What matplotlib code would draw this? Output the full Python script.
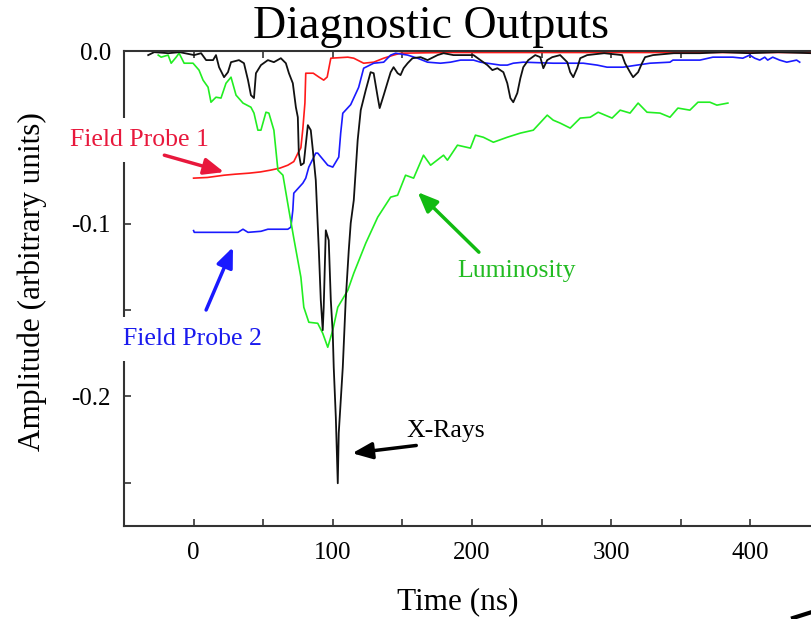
import matplotlib
matplotlib.use("Agg")
import matplotlib.pyplot as plt
from matplotlib.lines import Line2D

plt.rcParams['font.family'] = ['Liberation Serif', 'DejaVu Serif']

# X-Rays (black)
xray_t = [-32.6, -28.3, -18.0, -10.0, 0.4, 5.4, 9.0, 14.0, 16.1, 18.3, 21.9, 24.7, 26.9,
          32.6, 36.2, 39.1, 41.2, 43.4, 44.8, 48.4, 53.4, 57.7, 62.7, 66.3, 68.5, 71.3,
          73.5, 74.9, 75.6, 77.1, 79.2, 82.1, 84.2, 85.7, 87.8, 90.0, 91.4, 92.8, 93.5,
          95.0, 97.1, 98.6, 100.0, 100.7, 102.2, 103.6, 104.3, 107.2, 109.3, 111.5, 112.9,
          115.1, 117.9, 120.1, 123.7, 127.2, 129.4, 132.3, 133.7, 136.6, 139.4, 141.6,
          143.7, 146.6, 148.7, 150.9, 153.8, 157.3, 163.1, 168.1, 175.3, 179.6, 186.7,
          191.8, 201.1, 206.1, 211.1, 214.7, 218.3, 222.6, 225.4, 227.6, 229.7, 232.6,
          234.8, 236.9, 240.5, 245.5, 249.1, 251.3, 254.1, 257.7, 263.4, 268.5, 270.6,
          272.8, 275.6, 277.8, 282.8, 295.0, 307.9, 310.0, 313.6, 315.8, 319.4, 322.2,
          324.4, 330.1, 345.0, 363.8, 380.0, 399.6, 420.0, 444.0]
xray_v = [-0.0023, -0.0006, -0.0012, -0.0006, -0.0023, -0.0012, -0.0052, -0.0052, -0.0023,
          -0.0093, -0.0151, -0.0122, -0.0064, -0.0052, -0.0070, -0.0168, -0.0255, -0.0272,
          -0.0128, -0.0081, -0.0052, -0.0064, -0.0041, -0.0070, -0.0128, -0.0186, -0.0325,
          -0.0383, -0.0591, -0.0661, -0.0649, -0.0429, -0.0458, -0.0574, -0.0748, -0.1154,
          -0.1443, -0.1617, -0.1484, -0.1038, -0.1096, -0.1443, -0.1635, -0.1832, -0.2122,
          -0.2504, -0.2214, -0.1832, -0.1443, -0.1154, -0.0997, -0.0864, -0.0516, -0.0342,
          -0.0226, -0.0122, -0.0128, -0.0267, -0.0330, -0.0255, -0.0180, -0.0122, -0.0093,
          -0.0128, -0.0139, -0.0099, -0.0070, -0.0041, -0.0035, -0.0052, -0.0023, -0.0012,
          -0.0023, -0.0023, -0.0023, -0.0052, -0.0081, -0.0110, -0.0099, -0.0122, -0.0186,
          -0.0272, -0.0296, -0.0243, -0.0157, -0.0093, -0.0052, -0.0023, -0.0035, -0.0099,
          -0.0052, -0.0035, -0.0023, -0.0064, -0.0122, -0.0151, -0.0099, -0.0041, -0.0023,
          -0.0012, -0.0023, -0.0070, -0.0122, -0.0151, -0.0122, -0.0070, -0.0035, -0.0023,
          -0.0012, -0.0012, -0.0006, -0.0012, -0.0006, -0.0012]

# Luminosity (green)
lum_t = [-25.4, -23.3, -18.3, -16.1, -12.5, -10.4, -6.8, -0.4, 3.9, 6.8, 10.4, 12.5, 16.1,
         19.7, 23.3, 26.9, 30.5, 35.5, 41.2, 43.4, 46.2, 48.4, 52.0, 54.1, 57.7, 60.6, 64.2,
         68.5, 72.0, 77.1, 79.2, 82.8, 89.2, 92.8, 96.4, 100.0, 103.6, 110.8, 115.1, 123.7,
         132.3, 141.6, 146.6, 152.3, 158.1, 165.2, 170.3, 179.6, 182.4, 189.6, 198.9, 202.5,
         208.2, 215.4, 225.4, 234.8, 244.1, 254.1, 258.4, 263.4, 270.6, 277.8, 285.0, 290.7,
         300.7, 306.5, 313.6, 319.4, 325.8, 335.1, 342.3, 348.0, 356.6, 362.4, 371.0, 376.0,
         383.9]
lum_v = [-0.0023, -0.0035, -0.0023, -0.0070, -0.0035, -0.0012, -0.0070, -0.0070, -0.0110,
         -0.0168, -0.0209, -0.0296, -0.0267, -0.0272, -0.0186, -0.0151, -0.0255, -0.0301,
         -0.0325, -0.0359, -0.0458, -0.0458, -0.0354, -0.0359, -0.0458, -0.0690, -0.0719,
         -0.0922, -0.1084, -0.1310, -0.1484, -0.1571, -0.1577, -0.1635, -0.1716, -0.1617,
         -0.1484, -0.1386, -0.1287, -0.1113, -0.0962, -0.0846, -0.0835, -0.0719, -0.0736,
         -0.0603, -0.0661, -0.0603, -0.0632, -0.0545, -0.0562, -0.0487, -0.0499, -0.0528,
         -0.0499, -0.0475, -0.0458, -0.0371, -0.0400, -0.0417, -0.0446, -0.0388, -0.0383,
         -0.0354, -0.0388, -0.0342, -0.0359, -0.0301, -0.0354, -0.0359, -0.0383, -0.0330,
         -0.0342, -0.0296, -0.0296, -0.0313, -0.0301]

# Field Probe 1 (red)
fp1_t = [0.0, 10.0, 21.9, 30.0, 40.0, 48.0, 55.0, 62.0, 67.7, 72.0, 75.0, 77.1, 78.5, 80.0,
         80.6, 86.0, 90.0, 93.5, 96.0, 98.6, 110.8, 115.1, 122.2, 129.4, 136.6, 143.7,
         148.7, 180.0, 250.0, 320.0, 400.0, 444.0]
fp1_v = [-0.0736, -0.0732, -0.0719, -0.0713, -0.0707, -0.0700, -0.0690, -0.0678, -0.0661,
         -0.0640, -0.0591, -0.0560, -0.0450, -0.0300, -0.0128, -0.0128, -0.0150, -0.0168,
         -0.0150, -0.0041, -0.0035, -0.0041, -0.0070, -0.0064, -0.0041, -0.0023, -0.0012,
         -0.0008, -0.0008, -0.0008, -0.0008, -0.0008]

# Field Probe 2 (blue)
fp2_t = [0.0, 0.5, 31.9, 35.5, 39.1, 48.4, 53.4, 67.7, 69.9, 71.3, 72.0, 78.5, 80.6, 82.8,
         87.8, 89.2, 96.4, 100.0, 104.3, 105.7, 107.2, 112.9, 118.6, 122.2, 129.4, 136.6,
         141.6, 145.2, 153.8, 160.9, 168.1, 177.4, 184.6, 191.8, 201.1, 206.1, 211.1,
         220.4, 225.4, 229.7, 236.9, 258.4, 280.0, 290.0, 297.1, 308.6, 318.6, 327.9,
         342.3, 344.4, 363.8, 373.1, 387.5, 394.6, 399.6, 403.2, 406.8, 410.4, 412.5,
         416.1, 421.1, 426.2, 433.3, 435.5]
fp2_v = [-0.1040, -0.1050, -0.1050, -0.1032, -0.1050, -0.1044, -0.1032, -0.1032, -0.1020,
         -0.0922, -0.0823, -0.0765, -0.0736, -0.0672, -0.0591, -0.0591, -0.0661, -0.0672,
         -0.0614, -0.0475, -0.0360, -0.0310, -0.0210, -0.0099, -0.0070, -0.0064, -0.0023,
         -0.0012, -0.0023, -0.0041, -0.0064, -0.0070, -0.0064, -0.0052, -0.0052, -0.0064,
         -0.0070, -0.0081, -0.0081, -0.0070, -0.0064, -0.0070, -0.0070, -0.0081, -0.0093,
         -0.0093, -0.0081, -0.0070, -0.0064, -0.0052, -0.0052, -0.0035, -0.0035, -0.0041,
         -0.0023, -0.0041, -0.0052, -0.0035, -0.0052, -0.0035, -0.0052, -0.0064, -0.0052,
         -0.0064]

fig = plt.figure(figsize=(8.12, 6.19), dpi=100)
ax = fig.add_axes([0.1527, 0.1507, 0.857, 0.7667])

ax.plot(fp1_t, fp1_v, color='#ff1a1a', lw=1.2, zorder=2)
ax.plot(fp2_t, fp2_v, color='#1a1aff', lw=1.2, zorder=2)
ax.plot(lum_t, lum_v, color='#22ee22', lw=1.2, zorder=2)
ax.plot(xray_t, xray_v, color='#111111', lw=1.3, zorder=2)

ax.set_xlim(-50, 450)
ax.set_ylim(-0.275, 0.0)
ax.set_xticks([0, 100, 200, 300, 400])
ax.set_xticks([-50, 50, 150, 250, 350], minor=True)
ax.set_yticks([0.0, -0.1, -0.2])
ax.set_yticklabels(['0.0', '-0.1', '-0.2'])
ax.set_yticks([-0.05, -0.15, -0.25], minor=True)

for s in ['left', 'bottom', 'top']:
    ax.spines[s].set_linewidth(1.5)
    ax.spines[s].set_color('#333333')
ax.spines['right'].set_visible(False)

ax.tick_params(axis='both', which='both', direction='in', length=5, width=1.2,
               color='#333333', labelsize=18, top=True)
ax.tick_params(axis='x', which='both', pad=12)
ax.tick_params(axis='y', which='both', pad=9.5)

ax.set_xlabel('Time (ns)', fontsize=22.5)
ax.xaxis.set_label_coords(0.48, -0.13)
ax.set_ylabel('Amplitude (arbitrary units)', fontsize=22.5)
ax.yaxis.set_label_coords(-0.111, 0.515)

fig.text(431 / 812, 1 - 38 / 619, 'Diagnostic Outputs', ha='center', va='baseline',
         fontsize=33)

box = dict(facecolor='white', edgecolor='none', pad=8)
ax.text(-39, -0.0516, 'Field Probe 1', color='#e8183c', fontsize=18.5, ha='center',
        va='center', bbox=box, clip_on=False, zorder=5)
ax.text(-1, -0.167, 'Field Probe 2', color='#1a1aee', fontsize=18.5, ha='center',
        va='center', bbox=box, clip_on=False, zorder=5)
ax.text(232, -0.1275, 'Luminosity', color='#22bb22', fontsize=18.5, ha='center',
        va='center', zorder=5)
ax.text(181, -0.2203, 'X-Rays', color='black', fontsize=18.5, ha='center',
        va='center', zorder=5)

def arrow(tail, head, color):
    ax.annotate('', xy=head, xytext=tail, zorder=6,
                arrowprops=dict(arrowstyle='-|>,head_length=0.6,head_width=0.25',
                                mutation_scale=20, lw=2.5, color=color,
                                shrinkA=0, shrinkB=0))

arrow((-21, -0.0603), (21.9, -0.0701), '#e8183c')
arrow((9, -0.150), (28.3, -0.1136), '#1a1aff')
arrow((205, -0.1165), (161, -0.0817), '#11bb11')
arrow((160, -0.2285), (114, -0.233), 'black')

fig.add_artist(Line2D([793 / 812, 812 / 812], [1 - 618 / 619, 1 - 612 / 619],
                      color='black', lw=3, transform=fig.transFigure))

fig.savefig('out.png', dpi=100)
